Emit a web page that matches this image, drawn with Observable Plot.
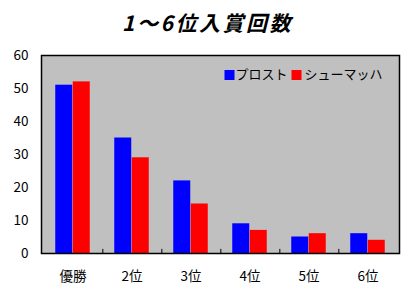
<!DOCTYPE html>
<html><head><meta charset="utf-8">
<script src="https://cdn.jsdelivr.net/npm/d3@7"></script>
<script src="https://cdn.jsdelivr.net/npm/@observablehq/plot@0.6"></script>
<style>
body{margin:0;background:#fff;}
#chart{position:relative;width:411px;height:290px;}
#chart svg text.ttl{letter-spacing:2.5px;}
</style>
</head><body><div id="chart"></div>
<script>
const title = "1～6位入賞回数";
const categories = ["優勝","2位","3位","4位","5位","6位"];
const seriesNames = ["プロスト","シューマッハ"];
const prost = [51,35,22,9,5,6];
const schumacher = [52,29,15,7,6,4];
const yTicks = [0,10,20,30,40,50,60];
const colors = ["#0000ff","#ff0000"];

const rows = [];
categories.forEach((c,i)=>{
  rows.push({cat:c, series:seriesNames[0], value:prost[i]});
  rows.push({cat:c, series:seriesNames[1], value:schumacher[i]});
});

const W = 411, H = 290;
const mL = 41, mR = 12, mT = 55, mB = 37;
const step = (W - mL - mR) / categories.length;
const barW = 17.5;
const pInner = 1 - barW / step;
const font = "'Noto Sans CJK JP', sans-serif";

const chart = Plot.plot({
  width: W, height: H,
  marginLeft: mL, marginRight: mR, marginTop: mT, marginBottom: mB,
  style: {fontFamily: font, fontSize: "13px", background: "white", color: "black"},
  x: {domain: categories, type: "band", paddingInner: pInner, paddingOuter: pInner/2, label: null},
  y: {domain: [0,60], label: null},
  color: {domain: seriesNames, range: colors},
  marks: [
    Plot.frame({fill: "#c0c0c0", stroke: "none"}),
    Plot.barY(rows.filter(d=>d.series===seriesNames[0]), {x:"cat", y:"value", fill:"series", dx: -barW/2}),
    Plot.barY(rows.filter(d=>d.series===seriesNames[1]), {x:"cat", y:"value", fill:"series", dx: barW/2}),
    Plot.ruleX(categories.slice(0,-1), {x: d=>d, dx: step/2, y1: 0, y2: 1.25, stroke: "black"}),
    Plot.frame({stroke: "black", strokeWidth: 1.5}),
    Plot.axisY({ticks: yTicks, tickSize: 0, tickPadding: 13, fontSize: 13.5, label: null}),
    Plot.axisX({tickSize: 0, tickPadding: 18, fontSize: 13.5, label: null}),
    Plot.dot([seriesNames[0]], {frameAnchor: "top-left", dx: 188, dy: 19.5, symbol: "square", r: 10/Math.sqrt(Math.PI), fill: colors[0], stroke: "none"}),
    Plot.text([seriesNames[0]], {frameAnchor: "top-left", dx: 194, dy: 19.5, textAnchor: "start", lineAnchor: "middle", fontSize: 13}),
    Plot.dot([seriesNames[1]], {frameAnchor: "top-left", dx: 255, dy: 19.5, symbol: "square", r: 10/Math.sqrt(Math.PI), fill: colors[1], stroke: "none"}),
    Plot.text([seriesNames[1]], {frameAnchor: "top-left", dx: 263, dy: 19.5, textAnchor: "start", lineAnchor: "middle", fontSize: 13}),
    Plot.text([title], {frameAnchor: "top", dx: -13, dy: -31, lineAnchor: "middle", fontSize: 21, fontWeight: 600, fontStyle: "italic", className: "ttl"})
  ]
});
chart.querySelectorAll("g[aria-label='text']").forEach(g=>{
  g.querySelectorAll("text").forEach(t=>{ if (t.textContent===title) t.style.letterSpacing="2.5px"; });
});
document.getElementById("chart").appendChild(chart);
</script></body></html>
